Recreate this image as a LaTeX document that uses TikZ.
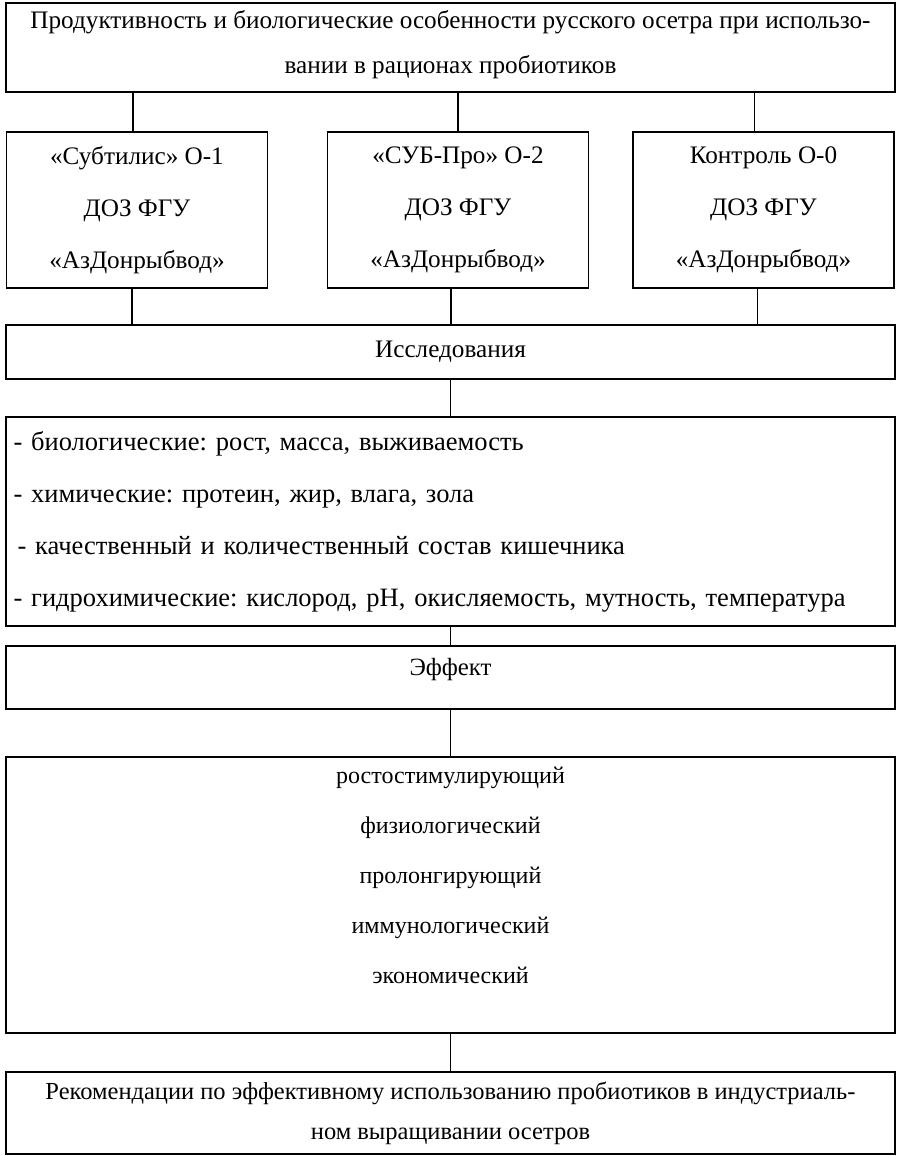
\documentclass[tikz,border=0pt]{standalone}
\usepackage{fontspec}
\setmainfont{Liberation Serif}
\frenchspacing
\begin{document}
\begin{tikzpicture}[x=1pt, y=-1pt,
		box/.style={draw, line width=1.6pt, inner sep=0pt, align=center, font=\fontsize{25.2}{45}\selectfont},
		group/.style={box, minimum width=261pt, minimum height=156pt, font=\fontsize{25.2}{52}\selectfont},
		wide/.style={box, minimum width=889pt},
		link/.style={line width=1.6pt}]
			\useasboundingbox (0,0) rectangle (898,1156);
	
			% top
			\node[wide, minimum height=89pt, text depth=12pt] (top) at (450.5,47.5) {Продуктивность и биологические особенности русского осетра при использо-\\вании в рационах пробиотиков};
	
			% groups
			\node[group] (sub) at (137,210) {«Субтилис» О-1\\ДОЗ ФГУ\\«АзДонрыбвод»};
			\node[group] (sbp) at (458,210) {«СУБ-Про» О-2\\ДОЗ ФГУ\\«АзДонрыбвод»};
			\node[group] (ctrl) at (763.5,210) {Контроль О-0\\ДОЗ ФГУ\\«АзДонрыбвод»};
	
			% research
			\node[wide, minimum height=54pt] (study) at (450.5,352) {Исследования};
			\node[wide, minimum height=209pt, text width=874pt, align=left, font=\fontsize{26.5}{52}\selectfont] (tests) at (450.5,521.5) {- биологические: рост, масса, выживаемость\\- химические: протеин, жир, влага, зола\\\hspace{4pt}- качественный и количественный состав кишечника\\- гидрохимические: кислород, pH, окисляемость, мутность, температура};
	
			% effect
			\node[wide, minimum height=63pt, text depth=21pt, font=\fontsize{24.8}{45}\selectfont] (effect) at (450.5,677.5) {Эффект};
			\node[wide, minimum height=276pt, text depth=39pt, font=\fontsize{24}{50}\selectfont] (effs) at (450.5,895) {ростостимулирующий\\физиологический\\пролонгирующий\\иммунологический\\экономический};
	
			% result
			\node[wide, minimum height=82pt, font=\fontsize{24.5}{40}\selectfont] (recs) at (450.5,1113) {Рекомендации по эффективному использованию пробиотиков в индустриаль-\\ном выращивании осетров};
	
			% connectors
			\draw[link] ([xshift=-4pt]sub.north) -- ([xshift=-4pt]sub.north |- top.south);
			\draw[link] (sbp.north) -- (sbp.north |- top.south);
			\draw[link] ([xshift=-9pt]ctrl.north) -- ([xshift=-9pt]ctrl.north |- top.south);
			\draw[link] ([xshift=-5pt]sub.south) -- ([xshift=-5pt]sub.south |- study.north);
			\draw[link] ([xshift=-7pt]sbp.south) -- ([xshift=-7pt]sbp.south |- study.north);
			\draw[link] ([xshift=-6pt]ctrl.south) -- ([xshift=-6pt]ctrl.south |- study.north);
			\draw[link] (study) -- (tests);
			\draw[link] (tests) -- (effect);
			\draw[link] (effect) -- (effs);
			\draw[link] (effs) -- (recs);
		\end{tikzpicture}
\end{document}
